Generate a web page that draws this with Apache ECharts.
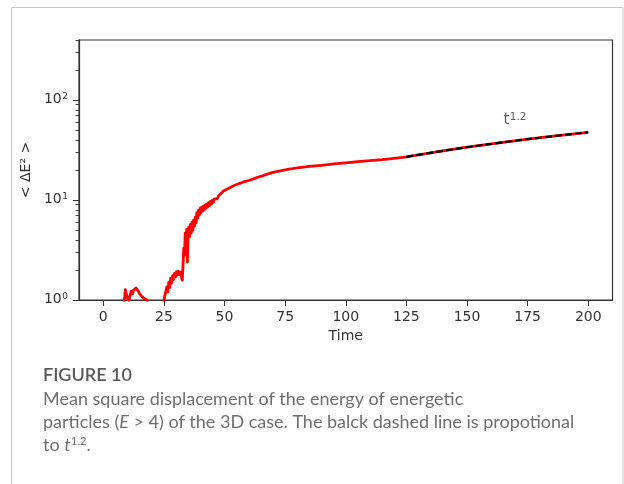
<!DOCTYPE html>
<html>
<head>
<meta charset="utf-8">
<script src="https://cdn.jsdelivr.net/npm/echarts@6/dist/echarts.min.js"></script>
<style>
  html, body { margin: 0; padding: 0; background: #ffffff; }
  #chart { width: 624px; height: 484px; }
</style>
</head>
<body>
<div id="chart"></div>
<script>
// Time samples and mean square energy displacement <ΔE²> (energetic particles, E > 4, 3D run)
const timeSteps = [
  8.5, 8.8, 9.1, 9.5, 10, 10.5, 11, 11.5, 12, 12.5, 13, 13.5, 14, 14.5, 15, 15.5, 16, 16.5, 17, 17.5, 18, 18.5,
  24.8, 25.3, 25.8, 26.2, 26.6, 27.0, 27.4, 27.8, 28.2, 28.6, 29.0, 29.4, 29.8, 30.2, 30.6, 31.0, 31.4, 31.8,
  32.2, 32.6, 32.9, 33.2, 33.5, 33.8, 34.1, 34.4, 34.7, 35.0, 35.3, 35.6, 36.0, 36.3, 36.6, 37.0, 37.3, 37.6,
  38.0, 38.3, 38.6, 39.0, 39.3, 39.6, 40.0, 40.3, 40.6, 41.0, 41.3, 41.6, 42.0, 42.3, 42.6, 43.0, 43.4, 43.8,
  44.2, 44.6, 45.0, 45.4, 45.8, 46.2, 46.6, 47.0, 47.5, 48.0, 48.5, 49.0, 49.5, 50, 51, 52, 53, 54, 55, 56, 57,
  58, 59, 60, 62, 64, 66, 68, 70, 72, 74, 76, 78, 80, 85, 90, 95, 100, 105, 110, 115, 120, 125,
  137.5, 150, 162.5, 175, 187.5, 200
];
const msdValues = [
  0.9, 1.05, 1.27, 1.15, 1.05, 0.98, 1.1, 1.22, 1.15, 1.25, 1.28, 1.32, 1.27, 1.22, 1.15, 1.18, 1.08, 1.1, 1.03, 1.05, 1.0, 0.9,
  0.9, 1.08, 1.12, 1.35, 1.2, 1.5, 1.33, 1.65, 1.48, 1.75, 1.6, 1.85, 1.7, 1.92, 1.78, 1.93, 1.8, 1.9,
  1.72, 1.58, 2.3, 3.3, 2.8, 4.7, 3.6, 5.1, 2.4, 4.4, 5.4, 4.3, 5.7, 4.7, 6.0, 5.0, 6.3, 5.5,
  6.8, 5.9, 7.5, 6.6, 7.9, 7.1, 8.3, 7.4, 8.5, 7.8, 8.7, 8.0, 8.9, 8.3, 9.1, 8.5, 9.4, 8.8,
  9.7, 9.1, 10.0, 9.5, 10.3, 9.9, 10.6, 10.3, 11.0, 11.1, 11.6, 11.8, 12.3, 12.4, 12.8, 13.2, 13.6, 14.0, 14.3, 14.6, 14.9,
  15.2, 15.5, 15.7, 16.3, 17.0, 17.6, 18.3, 18.9, 19.4, 19.8, 20.3, 20.6, 21.0, 21.7, 22.3, 23.0, 23.6, 24.2, 24.8, 25.4, 26.2, 27.1,
  30.4, 33.8, 37.2, 40.7, 44.2, 47.7
];

// Reference power law ∝ t^1.2 over the late-time range
const fitTimes = [125, 137.5, 150, 162.5, 175, 187.5, 200];
const fitValues = [27.1, 30.4, 33.8, 37.2, 40.7, 44.2, 47.7];

// Label position for the power-law annotation
const fitLabelAt = [165, 50];

// Tick labels
const xTickValues = [0, 25, 50, 75, 100, 125, 150, 175, 200];
const yMajorTicks = [1, 10, 100];
const yMinorTicks = [2, 3, 4, 5, 6, 7, 8, 9, 20, 30, 40, 50, 60, 70, 80, 90, 200, 300, 400];

const zip = (xs, ys) => xs.map((x, i) => [x, ys[i]]);

const axisColor = '#333333';
const textColor = '#333333';
const chartFont = "'DejaVu Sans', sans-serif";
const captionFont = "Lato, sans-serif";
const captionColor = '#6f6f6f';

const chart = echarts.init(document.getElementById('chart'), null, { renderer: 'canvas' });

chart.setOption({
  backgroundColor: '#ffffff',
  animation: false,
  textStyle: { fontFamily: chartFont },
  grid: {
    left: 79, right: 11.5, top: 40, height: 260,
    show: true, borderColor: axisColor, borderWidth: 1.2, backgroundColor: 'transparent'
  },
  xAxis: {
    type: 'value', min: -10, max: 210,
    name: 'Time', nameLocation: 'middle', nameGap: 29,
    nameTextStyle: { fontFamily: chartFont, fontSize: 14, color: textColor },
    axisLine: { show: true, onZero: false, lineStyle: { color: axisColor, width: 1.2 } },
    axisTick: { show: true, inside: false, length: 6, customValues: xTickValues, lineStyle: { color: axisColor, width: 1 } },
    axisLabel: { show: true, margin: 10, customValues: xTickValues, fontFamily: chartFont, fontSize: 14, color: textColor },
    splitLine: { show: false }
  },
  yAxis: [
    {
      type: 'log', logBase: 10, min: 1, max: 400,
      name: '< ΔE² >', nameLocation: 'middle', nameGap: 44, nameRotate: 90,
      nameTextStyle: { fontFamily: chartFont, fontSize: 14, color: textColor },
      axisLine: { show: true, onZero: false, lineStyle: { color: axisColor, width: 1.2 } },
      axisTick: { show: true, inside: false, length: 6, customValues: yMajorTicks, lineStyle: { color: axisColor, width: 1 } },
      axisLabel: {
        show: true, margin: 11, customValues: yMajorTicks,
        formatter: v => '{b|10}{s|' + Math.round(Math.log10(v)) + '}',
        rich: {
          b: { fontFamily: chartFont, fontSize: 14, color: textColor, lineHeight: 16, verticalAlign: 'top' },
          s: { fontFamily: chartFont, fontSize: 9, color: textColor, lineHeight: 12, verticalAlign: 'top', padding: [0, 0, 0, 0.5] }
        }
      },
      splitLine: { show: false },
      minorTick: { show: false }
    },
    {
      type: 'log', logBase: 10, min: 1, max: 400, position: 'left',
      axisLine: { show: false, onZero: false },
      axisTick: { show: true, inside: false, length: 3.5, customValues: yMinorTicks, lineStyle: { color: axisColor, width: 0.9 } },
      axisLabel: { show: false },
      splitLine: { show: false }
    }
  ],
  series: [
    {
      name: '<ΔE²>', type: 'line', data: zip(timeSteps, msdValues),
      showSymbol: false, symbol: 'none', clip: true, z: 2,
      lineStyle: { color: '#ff0000', width: 2.8, join: 'round' }
    },
    {
      name: 't^1.2', type: 'line', data: zip(fitTimes, fitValues),
      showSymbol: false, symbol: 'none', clip: true, z: 3,
      lineStyle: { color: '#000000', width: 2.2, type: [7, 3] }
    },
    {
      name: 'label', type: 'scatter', data: [fitLabelAt], symbolSize: 0, z: 4, silent: true,
      label: {
        show: true, position: [0, 0], align: 'left', verticalAlign: 'bottom',
        formatter: '{t|t}{s|1.2}',
        rich: {
          t: { fontFamily: chartFont, fontSize: 15, color: textColor, lineHeight: 18, verticalAlign: 'top' },
          s: { fontFamily: chartFont, fontSize: 10.5, color: textColor, lineHeight: 13, verticalAlign: 'top', padding: [0, 0, 0, 0.5] }
        }
      }
    }
  ],
  graphic: [
    {
      type: 'rect', z: -1, silent: true,
      shape: { x: 11.5, y: 7.5, width: 611.5, height: 520 },
      style: { fill: 'none', stroke: '#c8c8c8', lineWidth: 1 }
    },
    {
      type: 'text', left: 43, top: 366, silent: true,
      style: { text: 'FIGURE 10', font: '600 18px ' + captionFont, fill: '#5a5a5a' }
    },
    {
      type: 'text', left: 43, top: 390, silent: true,
      style: { text: 'Mean square displacement of the energy of energetic', font: '18px ' + captionFont, fill: captionColor }
    },
    {
      type: 'text', left: 43, top: 413, silent: true,
      style: {
        text: '{n|particles (}{i|E}{n| > 4) of the 3D case. The balck dashed line is propotional}',
        rich: {
          n: { fontFamily: captionFont, fontSize: 18, fill: captionColor, color: captionColor },
          i: { fontFamily: captionFont, fontSize: 18, fontStyle: 'italic', fill: captionColor, color: captionColor }
        }
      }
    },
    {
      type: 'text', left: 43, top: 436, silent: true,
      style: {
        text: '{n|to }{i|t}{s|1.2}{n|.}',
        rich: {
          n: { fontFamily: captionFont, fontSize: 18, fill: captionColor, color: captionColor, lineHeight: 22, verticalAlign: 'top' },
          i: { fontFamily: captionFont, fontSize: 18, fontStyle: 'italic', fill: captionColor, color: captionColor, lineHeight: 22, verticalAlign: 'top' },
          s: { fontFamily: captionFont, fontSize: 11, fill: captionColor, color: captionColor, lineHeight: 16, verticalAlign: 'top', padding: [0, 0, 0, 0.5] }
        }
      }
    }
  ]
});
</script>
</body>
</html>
